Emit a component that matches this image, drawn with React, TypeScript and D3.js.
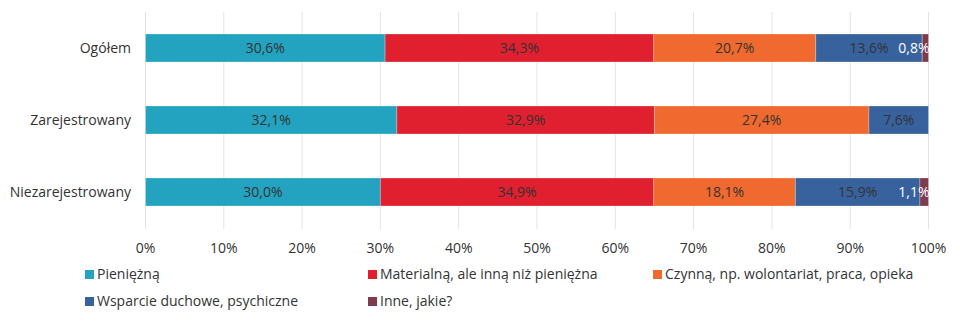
import React from "react";
import * as d3 from "d3";

const categories = ["Ogółem", "Zarejestrowany", "Niezarejestrowany"];
const seriesNames = [
  "Pieniężną",
  "Materialną, ale inną niż pieniężna",
  "Czynną, np. wolontariat, praca, opieka",
  "Wsparcie duchowe, psychiczne",
  "Inne, jakie?",
];
const pieniezna = [30.6, 32.1, 30.0];
const materialna = [34.3, 32.9, 34.9];
const czynna = [20.7, 27.4, 18.1];
const duchowe = [13.6, 7.6, 15.9];
const inne = [0.8, 0, 1.1];
const colors = ["#23a3c0", "#e01f2f", "#f06a2f", "#38629d", "#7d3b4d"];
const ticks = [0, 10, 20, 30, 40, 50, 60, 70, 80, 90, 100];

const W = 960;
const H = 323;
const font = "'Open Sans', sans-serif";

export default function App() {
  const series = [pieniezna, materialna, czynna, duchowe, inne];
  const x = d3.scaleLinear().domain([0, 100]).range([145.5, 928.5]);
  const y = d3
    .scaleBand<string>()
    .domain(categories)
    .range([12, 228])
    .paddingInner(44 / 72)
    .paddingOuter(0.3056);

  const rows = categories.map((c, i) => {
    const obj: Record<string, number | string> = { cat: c };
    series.forEach((s, k) => (obj["s" + k] = s[i]));
    return obj;
  });
  const stack = d3.stack<any>().keys(series.map((_, k) => "s" + k));
  const stacked = stack(rows);

  const legendCols = [85, 368, 653];
  const legendRows = [270, 297];

  return (
    <svg width={W} height={H} style={{ position: "absolute", left: 0, top: 0 }} fontFamily={font}>
      {ticks.map((t) => (
        <line key={t} x1={x(t)} x2={x(t)} y1={12} y2={229} stroke="#e3e3e3" strokeWidth={1} />
      ))}
      {stacked.map((layer, k) =>
        layer.map((d, i) => {
          const w = x(d[1]) - x(d[0]);
          if (w <= 0) return null;
          return (
            <rect
              key={k + "-" + i}
              x={x(d[0])}
              y={y(categories[i])!}
              width={w}
              height={y.bandwidth()}
              fill={colors[k]}
              stroke="rgba(255,255,255,0.25)"
              strokeWidth={1}
            />
          );
        })
      )}
      {stacked.map((layer, k) =>
        layer.map((d, i) => {
          const v = series[k][i];
          if (!v) return null;
          const w = x(d[1]) - x(d[0]);
          const small = w < 30;
          const cy = y(categories[i])! + y.bandwidth() / 2;
          return (
            <text
              key={"l" + k + "-" + i}
              x={small ? x(d[1]) + 1 : (x(d[0]) + x(d[1])) / 2}
              y={cy}
              dy="0.35em"
              textAnchor={small ? "end" : "middle"}
              fontSize={14}
              fill={small ? "#ffffff" : "#333333"}
            >
              {v.toFixed(1).replace(".", ",")}%
            </text>
          );
        })
      )}
      {categories.map((c) => (
        <text
          key={c}
          x={131}
          y={y(c)! + y.bandwidth() / 2}
          dy="0.35em"
          textAnchor="end"
          fontSize={14}
          fill="#333333"
        >
          {c}
        </text>
      ))}
      {ticks.map((t) => (
        <text key={"t" + t} x={x(t)} y={253} textAnchor="middle" fontSize={14} fill="#333333">
          {t}%
        </text>
      ))}
      {seriesNames.map((name, k) => {
        const col = k % 3;
        const row = Math.floor(k / 3);
        const lx = legendCols[col];
        const ly = legendRows[row];
        return (
          <g key={name}>
            <rect x={lx} y={ly} width={9} height={9} fill={colors[k]} />
            <text x={lx + 12} y={ly + 9} fontSize={14} fill="#333333">
              {name}
            </text>
          </g>
        );
      })}
    </svg>
  );
}
